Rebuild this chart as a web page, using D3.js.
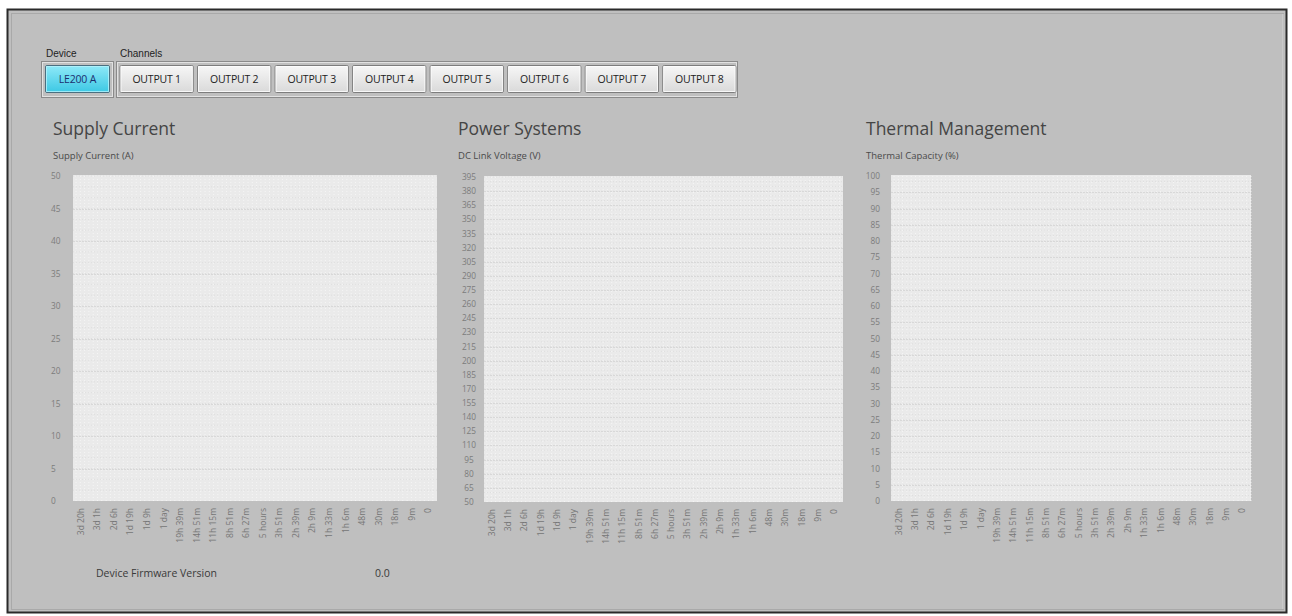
<!DOCTYPE html>
<html>
<head>
<meta charset="utf-8">
<script src="https://cdn.jsdelivr.net/npm/d3@7"></script>
<style>
  html, body { margin: 0; padding: 0; background: #ffffff; }
  svg { display: block; }
</style>
</head>
<body>
<svg id="chart" width="1292" height="616"></svg>
<script>
// ---------- data ----------
const devices = ["LE200 A"];
const channels = ["OUTPUT 1", "OUTPUT 2", "OUTPUT 3", "OUTPUT 4", "OUTPUT 5", "OUTPUT 6", "OUTPUT 7", "OUTPUT 8"];
const timeLabels = ["3d 20h", "3d 1h", "2d 6h", "1d 19h", "1d 9h", "1 day", "19h 39m", "14h 51m", "11h 15m",
  "8h 51m", "6h 27m", "5 hours", "3h 51m", "2h 39m", "2h 9m", "1h 33m", "1h 6m", "48m", "30m", "18m", "9m", "0"];
const chartTitles = ["Supply Current", "Power Systems", "Thermal Management"];
const axisTitles = ["Supply Current (A)", "DC Link Voltage (V)", "Thermal Capacity (%)"];
const currentTicks = d3.range(0, 51, 5);      // 0 .. 50
const voltageTicks = d3.range(50, 396, 15);   // 50 .. 395
const thermalTicks = d3.range(0, 101, 5);     // 0 .. 100
const firmwareLabel = "Device Firmware Version";
const firmwareValue = "0.0";

// ---------- layout ----------
const svg = d3.select("#chart");
const UI = "'Open Sans', 'Noto Sans', sans-serif";

// outer frame
svg.append("rect").attr("x", 7.5).attr("y", 9.5).attr("width", 1279).attr("height", 603)
  .attr("fill", "#bfbfbf").attr("stroke", "#2a2a2a").attr("stroke-width", 2);
svg.append("rect").attr("x", 11.5).attr("y", 13.5).attr("width", 1272).attr("height", 596)
  .attr("fill", "none").attr("stroke", "#a9a9a9").attr("stroke-width", 1);
svg.append("line").attr("x1", 1283).attr("x2", 1283).attr("y1", 14).attr("y2", 609)
  .attr("stroke", "#d4d4d4");

const defs = svg.append("defs");
const gBtn = defs.append("linearGradient").attr("id", "btnGrad").attr("x1", 0).attr("x2", 0).attr("y1", 0).attr("y2", 1);
gBtn.append("stop").attr("offset", "0%").attr("stop-color", "#f7f7f7");
gBtn.append("stop").attr("offset", "100%").attr("stop-color", "#d9d9d9");
const gCyan = defs.append("linearGradient").attr("id", "cyanGrad").attr("x1", 0).attr("x2", 0).attr("y1", 0).attr("y2", 1);
gCyan.append("stop").attr("offset", "0%").attr("stop-color", "#8fe9f8");
gCyan.append("stop").attr("offset", "100%").attr("stop-color", "#3cc8e4");

// group labels
svg.append("text").attr("x", 46).attr("y", 57).text("Device")
  .attr("font-family", "'Liberation Sans', Arial, sans-serif").attr("font-size", 10).attr("fill", "#222");
svg.append("text").attr("x", 120).attr("y", 57).text("Channels")
  .attr("font-family", "'Liberation Sans', Arial, sans-serif").attr("font-size", 10).attr("fill", "#222");

function groupBox(x, y, w, h) {
  svg.append("rect").attr("x", x + 0.5).attr("y", y + 0.5).attr("width", w).attr("height", h)
    .attr("fill", "none").attr("stroke", "#8a8a8a");
  svg.append("rect").attr("x", x + 1.5).attr("y", y + 1.5).attr("width", w - 2).attr("height", h - 2)
    .attr("fill", "none").attr("stroke", "#e2e2e2");
}
groupBox(41, 61, 72, 36);
groupBox(116, 61, 621, 36);

function button(x, w, label, active) {
  const g = svg.append("g").attr("transform", `translate(${x},65)`);
  g.append("rect").attr("x", 0.5).attr("y", 0.5).attr("width", w).attr("height", 27).attr("rx", 1.5)
    .attr("fill", active ? "url(#cyanGrad)" : "url(#btnGrad)")
    .attr("stroke", active ? "#4a6f80" : "#7d7d7d");
  g.append("rect").attr("x", 1.5).attr("y", 1.5).attr("width", w - 2).attr("height", 25)
    .attr("fill", "none").attr("stroke", active ? "#b5f2fb" : "#ffffff").attr("stroke-opacity", 0.8);
  g.append("text").attr("x", w / 2 + 0.5).attr("y", 18).attr("text-anchor", "middle")
    .attr("font-family", UI).attr("font-size", 10.5).attr("letter-spacing", -0.2)
    .attr("fill", active ? "#1c2f6e" : "#222")
    .text(label);
}
const devScale = d3.scaleBand().domain(devices).range([45, 110]).paddingInner(0);
devices.forEach(d => button(devScale(d), devScale.bandwidth() - 1, d, true));
const chScale = d3.scaleBand().domain(channels).range([119.5, 735.5]).paddingInner(0.055);
channels.forEach(c => button(chScale(c), chScale.bandwidth(), c, false));

// ---------- charts ----------
const charts = [
  { left: 73, right: 437, top: 176, bottom: 501, ticks: currentTicks, labelX: 51, anchor: "start", titleX: 53 },
  { left: 484, right: 843, top: 177, bottom: 502, ticks: voltageTicks, labelX: 469, anchor: "middle", titleX: 458 },
  { left: 891, right: 1251, top: 176, bottom: 501, ticks: thermalTicks, labelX: 880, anchor: "end", titleX: 866 }
];

charts.forEach((c, i) => {
  const g = svg.append("g");
  g.append("text").attr("x", c.titleX).attr("y", 135).text(chartTitles[i])
    .attr("font-family", UI).attr("font-size", 17.5).attr("fill", "#454545");
  g.append("text").attr("x", c.titleX).attr("y", 159).text(axisTitles[i])
    .attr("font-family", UI).attr("font-size", 9.5).attr("fill", "#4a4a4a");

  const y = d3.scaleLinear().domain(d3.extent(c.ticks)).range([c.bottom, c.top]);
  const x = d3.scalePoint().domain(timeLabels).range([c.left, c.right]).padding(0.5);

  // plot background
  g.append("rect").attr("x", c.left).attr("y", c.top - 1).attr("width", c.right - c.left)
    .attr("height", c.bottom - c.top + 1).attr("fill", "#eaeaea");

  // minor dotted grid
  const minorX = d3.range(c.left + 3, c.right, 4.3);
  g.selectAll(".mx").data(minorX).join("line")
    .attr("x1", d => d).attr("x2", d => d).attr("y1", c.top).attr("y2", c.bottom)
    .attr("stroke", "#f5f5f5").attr("stroke-width", 1).attr("stroke-dasharray", "1,2");
  const step = (y(c.ticks[0]) - y(c.ticks[1])) / 3;
  const minorY = d3.range(c.bottom - step, c.top, -step);
  g.selectAll(".my").data(minorY).join("line")
    .attr("x1", c.left).attr("x2", c.right).attr("y1", d => d).attr("y2", d => d)
    .attr("stroke", "#dedede").attr("stroke-width", 1).attr("stroke-dasharray", "1,2");
  // major horizontal grid
  g.selectAll(".gy").data(c.ticks.slice(1, -1)).join("line")
    .attr("x1", c.left).attr("x2", c.right).attr("y1", d => Math.round(y(d)) + 0.5).attr("y2", d => Math.round(y(d)) + 0.5)
    .attr("stroke", "#d8d8d8").attr("stroke-width", 1).attr("stroke-dasharray", "2,1");

  // y tick labels
  g.selectAll(".yl").data(c.ticks).join("text")
    .attr("x", c.labelX).attr("y", d => y(d) + 3).attr("text-anchor", c.anchor)
    .attr("font-family", UI).attr("font-size", 8.3).attr("fill", "#7c7c7c")
    .text(d => d);

  // x tick labels (rotated)
  g.selectAll(".xl").data(timeLabels).join("text")
    .attr("transform", d => `translate(${x(d) + 2.5},${c.bottom + 7}) rotate(-90)`)
    .attr("text-anchor", "end")
    .attr("font-family", UI).attr("font-size", 8.5).attr("fill", "#767676")
    .text(d => d);
});

// footer
svg.append("text").attr("x", 96).attr("y", 577).text(firmwareLabel)
  .attr("font-family", UI).attr("font-size", 10.5).attr("fill", "#3a3a3a");
svg.append("text").attr("x", 375).attr("y", 577).text(firmwareValue)
  .attr("font-family", UI).attr("font-size", 10.5).attr("fill", "#3a3a3a");
</script>
</body>
</html>
